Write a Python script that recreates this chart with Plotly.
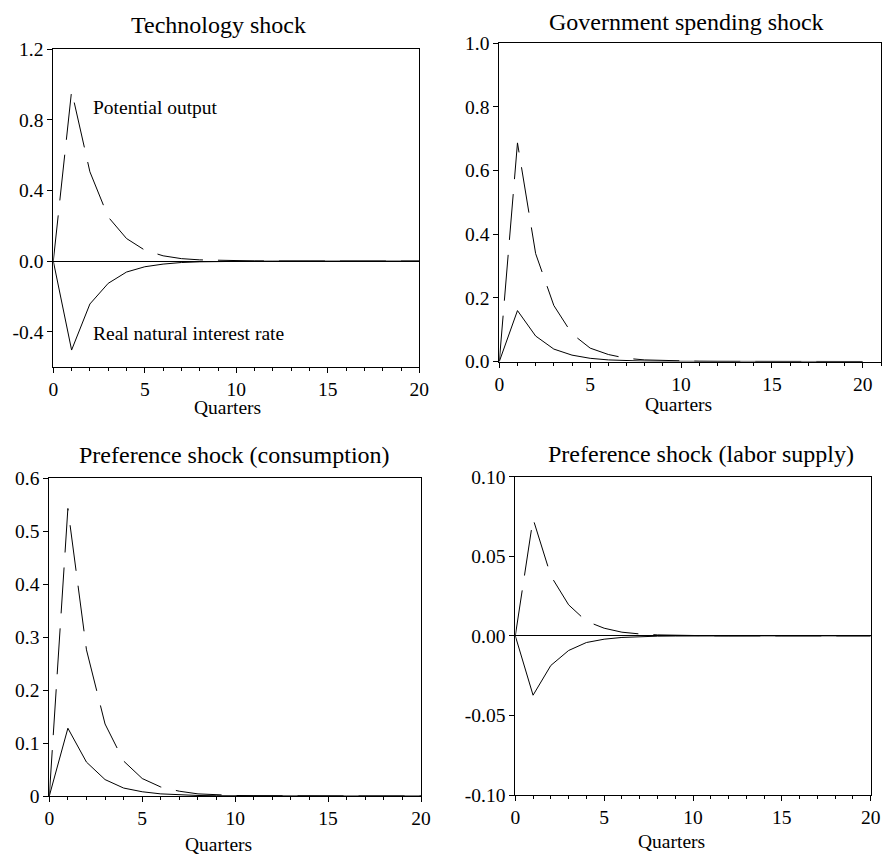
import plotly.graph_objects as go

W, H = 882, 855

quarters = list(range(21))

# Technology shock
tech_potential_output = [0, 0.964, 0.506, 0.250, 0.128, 0.062, 0.030, 0.014, 0.007, 0.004, 0.002,
                         0.001, 0.0005, 0.0003, 0.0001, 0.0001, 0, 0, 0, 0, 0]
tech_real_rate = [0, -0.504, -0.243, -0.126, -0.062, -0.032, -0.017, -0.008, -0.004, -0.002, -0.001,
                  -0.0005, -0.0003, -0.0001, 0, 0, 0, 0, 0, 0, 0]

# Government spending shock
gov_potential_output = [0, 0.687, 0.339, 0.176, 0.087, 0.042, 0.022, 0.010, 0.005, 0.003, 0.001,
                        0.0007, 0.0003, 0.0002, 0.0001, 0, 0, 0, 0, 0, 0]
gov_real_rate = [0, 0.160, 0.080, 0.039, 0.020, 0.010, 0.005, 0.0025, 0.0012, 0.0006, 0.0003,
                 0.0001, 0, 0, 0, 0, 0, 0, 0, 0, 0]

# Preference shock (consumption)
prefc_potential_output = [0, 0.543, 0.276, 0.136, 0.066, 0.033, 0.017, 0.009, 0.004, 0.002, 0.001,
                          0.0005, 0.0002, 0.0001, 0, 0, 0, 0, 0, 0, 0]
prefc_real_rate = [0, 0.128, 0.064, 0.031, 0.015, 0.008, 0.004, 0.002, 0.001, 0.0005, 0.0002,
                   0.0001, 0, 0, 0, 0, 0, 0, 0, 0, 0]

# Preference shock (labor supply)
prefl_potential_output = [0, 0.0735, 0.0377, 0.0195, 0.0092, 0.0048, 0.0023, 0.0012, 0.0006, 0.0003,
                          0.0001, 0.00005, 0, 0, 0, 0, 0, 0, 0, 0, 0]
prefl_real_rate = [0, -0.0373, -0.0186, -0.0092, -0.0042, -0.0021, -0.0010, -0.0005, -0.0002, -0.0001,
                   0, 0, 0, 0, 0, 0, 0, 0, 0, 0, 0]

panel_titles = ["Technology shock", "Government spending shock",
                "Preference shock (consumption)", "Preference shock (labor supply)"]
x_title = "Quarters"
x_tickvals = [0, 5, 10, 15, 20]
x_ticktext = ["0", "5", "10", "15", "20"]

y1_tickvals = [1.2, 0.8, 0.4, 0.0, -0.4]
y1_ticktext = ["1.2", "0.8", "0.4", "0.0", "-0.4"]
y2_tickvals = [1.0, 0.8, 0.6, 0.4, 0.2, 0.0]
y2_ticktext = ["1.0", "0.8", "0.6", "0.4", "0.2", "0.0"]
y3_tickvals = [0.6, 0.5, 0.4, 0.3, 0.2, 0.1, 0.0]
y3_ticktext = ["0.6", "0.5", "0.4", "0.3", "0.2", "0.1", "0"]
y4_tickvals = [0.10, 0.05, 0.0, -0.05, -0.10]
y4_ticktext = ["0.10", "0.05", "0.00", "-0.05", "-0.10"]

label_output = "Potential output"
label_rate = "Real natural interest rate"

FONT = "Liberation Serif, Times New Roman, Times, serif"
TICK_SIZE = 19.5
TITLE_SIZE = 24
DASH = "46px,15px"

# pixel boxes for each panel: (left, right, top, bottom)
boxes = [
    (53.3, 419.3, 49.3, 367.0),
    (499.3, 881.0, 43.3, 361.5),
    (49.3, 421.0, 478.3, 796.0),
    (515.3, 870.7, 476.7, 795.0),
]
x_ranges = [[0, 20], [0, 21], [0, 20], [0, 20]]
y_ranges = [[-0.6, 1.2], [0, 1.0], [0, 0.6], [-0.1, 0.1]]
y_ticks = [(y1_tickvals, y1_ticktext), (y2_tickvals, y2_ticktext),
           (y3_tickvals, y3_ticktext), (y4_tickvals, y4_ticktext)]
zerolines = [True, False, False, True]
series = [
    (tech_potential_output, tech_real_rate),
    (gov_potential_output, gov_real_rate),
    (prefc_potential_output, prefc_real_rate),
    (prefl_potential_output, prefl_real_rate),
]
# title centres and "Quarters" centres in pixels
title_pos = [(218, 25), (686.5, 22), (235, 455), (700.5, 454)]
xlabel_pos = [(227, 408), (678.5, 405), (218, 844.5), (671.5, 841)]

fig = go.Figure()
layout = dict(
    width=W, height=H,
    margin=dict(l=0, r=0, t=0, b=0, pad=0),
    paper_bgcolor="white", plot_bgcolor="white",
    showlegend=False,
    font=dict(family=FONT, size=TICK_SIZE, color="black"),
    annotations=[],
)

for i in range(4):
    n = i + 1
    xa = "x" if n == 1 else f"x{n}"
    ya = "y" if n == 1 else f"y{n}"
    left, right, top, bottom = boxes[i]
    out, rate = series[i]
    fig.add_trace(go.Scatter(x=quarters, y=out, mode="lines", xaxis=xa, yaxis=ya,
                             line=dict(color="black", width=1, dash=DASH)))
    fig.add_trace(go.Scatter(x=quarters, y=rate, mode="lines", xaxis=xa, yaxis=ya,
                             line=dict(color="black", width=1)))
    axis_common = dict(showline=True, linecolor="black", linewidth=1, mirror=True,
                       showgrid=False, ticks="outside", tickcolor="black", tickwidth=1,
                       ticklen=5, automargin=False,
                       tickfont=dict(family=FONT, size=TICK_SIZE, color="black"))
    layout[f"xaxis{'' if n == 1 else n}"] = dict(
        axis_common, domain=[left / W, right / W], range=x_ranges[i],
        anchor=ya, tickvals=x_tickvals, ticktext=x_ticktext, zeroline=False,
        minor=dict(dtick=1, tick0=0, ticks="outside", ticklen=3, tickcolor="black", tickwidth=1,
                   showgrid=False),
    )
    tv, tt = y_ticks[i]
    layout[f"yaxis{'' if n == 1 else n}"] = dict(
        axis_common, domain=[1 - bottom / H, 1 - top / H], range=y_ranges[i],
        anchor=xa, tickvals=tv, ticktext=tt,
        zeroline=zerolines[i], zerolinecolor="black", zerolinewidth=1,
    )
    tx, ty = title_pos[i]
    layout["annotations"].append(dict(
        text=panel_titles[i], x=tx / W, y=1 - ty / H, xref="paper", yref="paper",
        xanchor="center", yanchor="middle", showarrow=False,
        font=dict(family=FONT, size=TITLE_SIZE, color="black")))
    qx, qy = xlabel_pos[i]
    layout["annotations"].append(dict(
        text=x_title, x=qx / W, y=1 - qy / H, xref="paper", yref="paper",
        xanchor="center", yanchor="middle", showarrow=False,
        font=dict(family=FONT, size=TICK_SIZE, color="black")))

# curve labels in the technology panel
layout["annotations"].append(dict(
    text=label_output, x=2.05, y=0.87, xref="x", yref="y", xanchor="left", yanchor="middle",
    showarrow=False, font=dict(family=FONT, size=TICK_SIZE, color="black")))
layout["annotations"].append(dict(
    text=label_rate, x=2.05, y=-0.41, xref="x", yref="y", xanchor="left", yanchor="middle",
    showarrow=False, font=dict(family=FONT, size=TICK_SIZE, color="black")))

fig.update_layout(**layout)
fig.write_html("out.html", config={"displayModeBar": False},
               post_script="document.body.style.margin='0';document.body.style.overflow='hidden';")
